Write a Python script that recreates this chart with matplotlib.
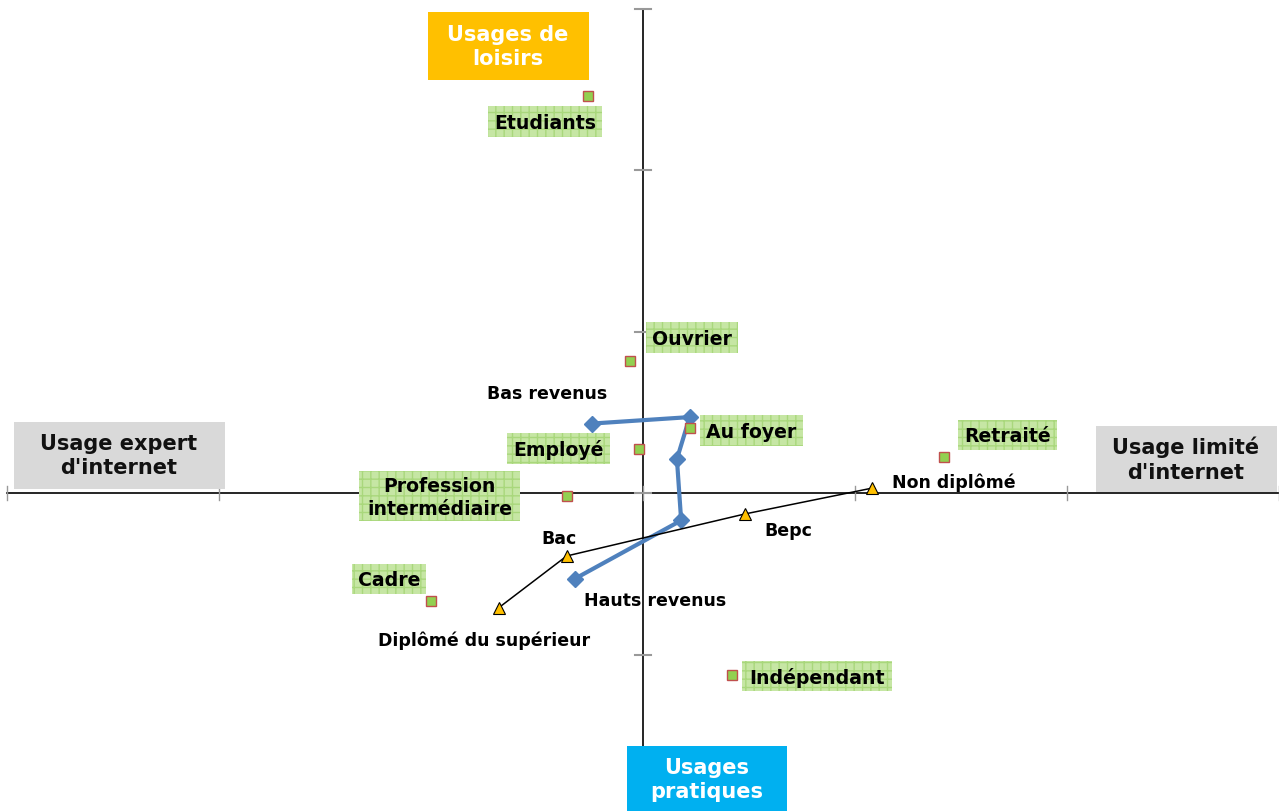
import matplotlib
matplotlib.use("Agg")
import matplotlib.pyplot as plt
from matplotlib.patches import Rectangle

plt.rcParams['font.family'] = ['DejaVu Sans']

# --- data (axis units) ---
csp_labels = ["Etudiants", "Ouvrier", "Au foyer", "Employé", "Profession\nintermédiaire",
              "Retraité", "Cadre", "Indépendant"]
csp_x = [-0.26, -0.06, 0.22, -0.02, -0.36, 1.42, -1.00, 0.42]
csp_y = [2.46, 0.82, 0.40, 0.27, -0.02, 0.22, -0.67, -1.13]

dipl_labels = ["Diplômé du supérieur", "Bac", "Bepc", "Non diplômé"]
dipl_x = [-0.68, -0.36, 0.48, 1.08]
dipl_y = [-0.71, -0.39, -0.13, 0.03]

rev_labels = ["Bas revenus", "", "", "", "Hauts revenus"]
rev_x = [-0.24, 0.22, 0.16, 0.18, -0.32]
rev_y = [0.43, 0.47, 0.21, -0.17, -0.53]

x_ticks = [-3, -2, -1, 0, 1, 2, 3]
y_ticks = [-1, 0, 1, 2, 3]

W, H = 1279, 812
fig = plt.figure(figsize=(W / 100, H / 100), dpi=100)
ax = fig.add_axes([0, 0, 1, 1])
PX_X, PX_Y, X0, Y0 = 212.0, 161.5, 643, 494
ax.set_xlim(-X0 / PX_X, (W - X0) / PX_X)
ax.set_ylim(-(H - Y0) / PX_Y, Y0 / PX_Y)
ax.axis('off')

# axes lines
ax.plot([-3, 3], [0, 0], color='black', lw=1.2, zorder=1)
ax.plot([0, 0], [-(H - Y0) / PX_Y, 3], color='black', lw=1.2, zorder=1)
for t in x_ticks:
    ax.plot([t, t], [-0.045, 0.045], color='#999999', lw=1, zorder=1)
for t in y_ticks:
    ax.plot([-0.04, 0.04], [t, t], color='#999999', lw=1.5, zorder=1)


def fig_rect(x0, y0, x1, y1, **kw):
    r = Rectangle((x0 / W, 1 - y1 / H), (x1 - x0) / W, (y1 - y0) / H,
                  transform=fig.transFigure, **kw)
    fig.add_artist(r)


def fig_text(x, y, s, ls=1.05, **kw):
    fig.text(x / W, 1 - y / H, s, ha='center', va='center', fontweight='bold',
             linespacing=ls, **kw)


# quadrant title boxes
fig_rect(428, 13, 589, 81, facecolor='#FFC000', edgecolor='none', zorder=2)
fig_text(508, 47, "Usages de\nloisirs", color='white', fontsize=15, ls=1.3, zorder=3)
fig_rect(14, 423, 225, 490, facecolor='#D9D9D9', edgecolor='none', zorder=2)
fig_text(119, 456, "Usage expert\nd'internet", color='#111111', fontsize=15, ls=1.3, zorder=3)
fig_rect(1096, 427, 1277, 493, facecolor='#D9D9D9', edgecolor='none', zorder=2)
fig_text(1186, 460, "Usage limité\nd'internet", color='#111111', fontsize=15, ls=1.3, zorder=3)
fig_rect(627, 747, 787, 815, facecolor='#00B0F0', edgecolor='none', zorder=2)
fig_text(707, 780, "Usages\npratiques", color='white', fontsize=15, ls=1.3, zorder=3)

# green label boxes (pixel boxes)
green_boxes = [(488, 107, 602, 138), (646, 323, 738, 354), (700, 416, 803, 447),
               (507, 434, 610, 465), (359, 472, 520, 522), (958, 421, 1057, 451),
               (352, 565, 426, 595), (742, 662, 892, 692)]
for lab, (x0, y0, x1, y1) in zip(csp_labels, green_boxes):
    fig_rect(x0, y0, x1, y1, facecolor='#C6E6A4', edgecolor='#A9D77C', hatch='++',
             linewidth=0, zorder=2)
    fig_text((x0 + x1) / 2, (y0 + y1) / 2 + 1, lab, color='black', fontsize=13.6,
             ls=1.3, zorder=3)

# series
ax.plot(rev_x, rev_y, color='#4F81BD', lw=3, marker='D', markersize=8.5,
        markerfacecolor='#4F81BD', markeredgecolor='#4F81BD', zorder=4)
ax.plot(dipl_x, dipl_y, color='black', lw=1.1, marker='^', markersize=8,
        markerfacecolor='#FFC000', markeredgecolor='black', markeredgewidth=0.8, zorder=5)
ax.plot(csp_x, csp_y, linestyle='none', marker='s', markersize=7,
        markerfacecolor='#92D050', markeredgecolor='#C0504D', markeredgewidth=1, zorder=6)

# small labels (pixel positions)
small_pos = {"Bas revenus": (547, 394), "Hauts revenus": (655, 601),
             "Bac": (559, 539), "Diplômé du supérieur": (484, 641),
             "Bepc": (788, 531), "Non diplômé": (954, 483)}
for lab, (px, py) in small_pos.items():
    fig_text(px, py, lab, color='black', fontsize=12.5, zorder=7)

fig.savefig("out.png", dpi=100)
